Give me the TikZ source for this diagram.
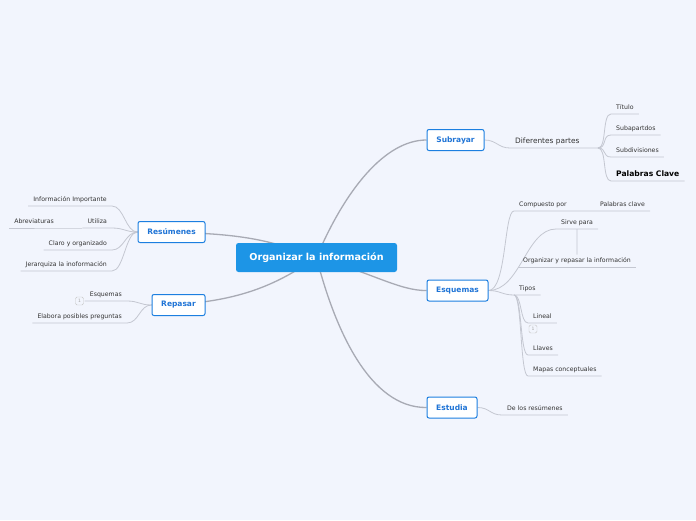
\documentclass[tikz,border=0pt]{standalone}
\usepackage{fontspec}
\setmainfont{DejaVu Sans}
\usepackage{tikz}
\usetikzlibrary{positioning}
\usetikzlibrary{backgrounds}

\definecolor{paper}{HTML}{F2F5FD}
\definecolor{mainblue}{HTML}{1D95E6}
\definecolor{topicblue}{HTML}{1C7FE0}
\definecolor{topictext}{HTML}{1F74D6}
\definecolor{trunk}{HTML}{A8AAB4}
\definecolor{twiggray}{HTML}{C4C7D1}
\definecolor{leaftext}{HTML}{333333}

\begin{document}
\begin{tikzpicture}[x=1pt,y=-1pt,
    central/.style = {rectangle, rounded corners=2.5pt, fill=mainblue,
                      text=white, font=\fontsize{9.6}{11}\bfseries,
                      minimum width=161pt, minimum height=29pt},
    topic/.style = {rectangle, rounded corners=2pt, draw=topicblue, line width=1pt,
                    fill=white, text=topictext, font=\fontsize{7.5}{9}\bfseries,
                    minimum height=21pt, inner xsep=8pt},
    leaf/.style = {text=leaftext, font=\fontsize{6.2}{7}\selectfont,
                   inner xsep=5pt, inner ysep=3pt, text height=4.6pt, text depth=1.3pt},
    leafleft/.style = {leaf, anchor=south east},
    leafright/.style = {leaf, anchor=south west},
    badge/.style = {rectangle, rounded corners=1.5pt, draw=gray!45, fill=paper,
                    text=gray!70, font=\fontsize{4.5}{5}\selectfont,
                    minimum width=8pt, minimum height=8pt, inner sep=0pt},
    branch/.style = {draw=trunk, line width=1.3pt},
    twig/.style = {draw=twiggray, line width=0.8pt}]

  % main topics
  \node (org) [central] at (316.5,257.5) {Organizar la información};
  \node (sub) [topic, minimum width=57pt] at (455.5,140) {Subrayar};
  \node (esq) [topic, minimum width=61pt] at (457.5,290.5) {Esquemas};
  \node (est) [topic, minimum width=50pt] at (452,407.5) {Estudia};
  \node (res) [topic, minimum width=67pt] at (171.5,232) {Resúmenes};
  \node (rep) [topic, minimum width=53pt] at (178.5,305) {Repasar};

  % Subrayar
  \node (dif) [leafright, font=\fontsize{7.4}{8}\selectfont] at (510,148) {Diferentes partes};
  \coordinate (difend) at (598,148);
  \node (tit) [leafright] at (611,114) {Título};
  \node (suba) [leafright] at (611,135) {Subapartdos};
  \node (subd) [leafright] at (611,157) {Subdivisiones};
  \node (pcl) [leafright, text=black, font=\fontsize{7.6}{8}\bfseries] at (611,181) {Palabras Clave};

  % Esquemas
  \node (comp) [leafright] at (514,211) {Compuesto por};
  \node (pcl2) [leafright] at (595,211) {Palabras clave};
  \node (sirve) [leafright] at (556,229) {Sirve para};
  \node (orgrep) [leafright] at (518,267) {Organizar y repasar la información};
  \node (tip) [leafright] at (514,295) {Tipos};
  \node (lin) [leafright] at (528,323) {Lineal};
  \node (one) [badge] at (533,329) {1};
  \node (lla) [leafright] at (528,355) {Llaves};
  \node (mapas) [leafright] at (528,376) {Mapas conceptuales};

  % Estudia
  \node (delos) [leafright] at (502,415) {De los resúmenes};

  % Resumenes
  \node (info) [leafleft] at (112,206) {Información Importante};
  \node (uti) [leafleft] at (112,228) {Utiliza};
  \node (abr) [leafleft] at (59,228) {Abreviaturas};
  \node (claro) [leafleft] at (112,250) {Claro y organizado};
  \node (jer) [leafleft] at (112,271) {Jerarquiza la inoformación};

  % Repasar
  \node (esq2) [leafleft] at (127,301) {Esquemas};
  \node (two) [badge] at (79.5,301) {1};
  \node (elab) [leafleft] at (127,323) {Elabora posibles preguntas};

  \begin{pgfonlayer}{background}
    \fill[paper] (0,0) rectangle (696,520);

    \draw[branch] (org.center) .. controls (345,190) and (385,140) .. (sub.west);
    \draw[branch] (org.center) .. controls (370,272) and (400,291) .. (esq.west);
    \draw[branch] (org.center) .. controls (335,330) and (370,408) .. (est.west);
    \draw[branch] (org.center) .. controls (265,238) and (235,232) .. (res.west);
    \draw[branch] (org.center) .. controls (280,282) and (240,305) .. (rep.west);

    % Subrayar
    \draw[twig] (sub.east) .. controls +(12,0) and +(-12,0) .. (dif.south west)
                -- (difend);
    \foreach \n in {tit,suba,subd,pcl}
      \draw[twig] (difend) .. controls +(9,0) and +(-9,0) .. (\n.south west)
                  -- (\n.south east);

    % Esquemas
    \draw[twig] (esq.east) .. controls +(18,0) and +(-10,0) .. (comp.south west)
                -- (pcl2.south west) -- (pcl2.south east);
    \draw[twig] (esq.east) .. controls +(32,0) and +(-30,0) .. (sirve.south west)
                -- (sirve.south east);
    \draw[twig] (sirve.south) -- (orgrep.north);
    \draw[twig] (orgrep.south west) -- (orgrep.south east);
    \draw[twig] (esq.east) .. controls +(12,0) and +(-12,0) .. (tip.south west)
                -- (tip.south east);
    \foreach \n in {lin,lla,mapas}
      \draw[twig] (tip.south west) .. controls +(8,0) and +(-8,0) .. (\n.south west)
                  -- (\n.south east);

    % Estudia
    \draw[twig] (est.east) .. controls +(12,0) and +(-12,0) .. (delos.south west)
                -- (delos.south east);

    % Resumenes
    \foreach \n in {info,uti,claro,jer}
      \draw[twig] (res.west) .. controls +(-12,0) and +(12,0) .. (\n.south east)
                  -- (\n.south west);
    \draw[twig] (uti.south west) -- (abr.south east) -- (abr.south west);

    % Repasar
    \foreach \n in {esq2,elab}
      \draw[twig] (rep.west) .. controls +(-12,0) and +(12,0) .. (\n.south east)
                  -- (\n.south west);
  \end{pgfonlayer}

  \useasboundingbox (0,0) rectangle (696,520);
\end{tikzpicture}
\end{document}
